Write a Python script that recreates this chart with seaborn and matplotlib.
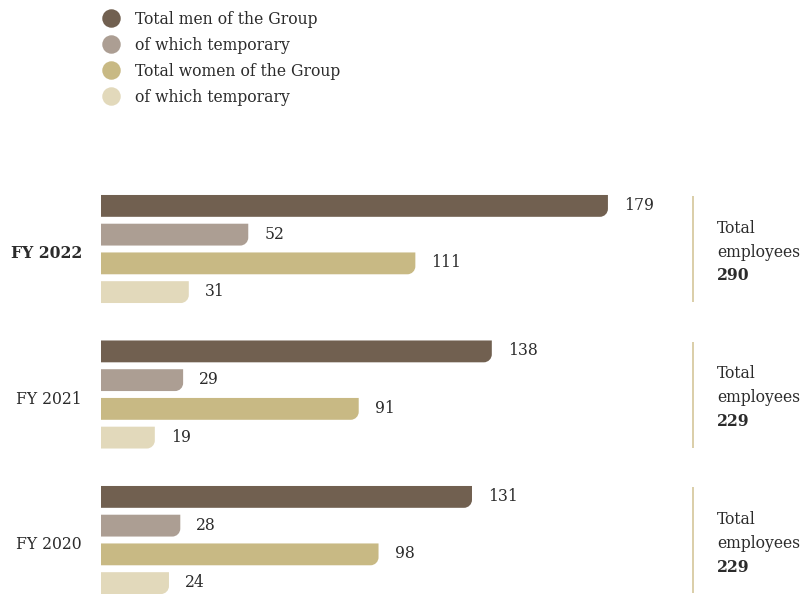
import matplotlib
matplotlib.use("Agg")
import matplotlib.pyplot as plt
from matplotlib.path import Path
from matplotlib.patches import PathPatch
from matplotlib.lines import Line2D
import seaborn as sns
import pandas as pd

years = ["FY 2022", "FY 2021", "FY 2020"]
series = ["Total men of the Group", "of which temporary (men)",
          "Total women of the Group", "of which temporary (women)"]
legend_labels = ["Total men of the Group", "of which temporary",
                 "Total women of the Group", "of which temporary"]
men_total = [179, 138, 131]
men_temp = [52, 29, 28]
women_total = [111, 91, 98]
women_temp = [31, 19, 24]
totals = [290, 229, 229]
colors = ["#716050", "#ac9e93", "#c8b984", "#e2d9bb"]

rows = []
for i, y in enumerate(years):
    for s, vals in zip(series, [men_total, men_temp, women_total, women_temp]):
        rows.append({"year": y, "series": s, "value": vals[i]})
df = pd.DataFrame(rows)

sns.set_theme(style="white")
plt.rcParams["font.family"] = ["DejaVu Serif"]
plt.rcParams["font.stretch"] = "condensed"
TXT = "#2b2b2b"
FS = 12.5

W, H = 805, 594
fig = plt.figure(figsize=(W / 100, H / 100), dpi=100)

# axes pixel geometry
ax_left, ax_right = 101, 690
ax_top, ax_bot = 150, 594
ax = fig.add_axes([ax_left / W, 1 - ax_bot / H, (ax_right - ax_left) / W, (ax_bot - ax_top) / H])
px_per_unit = 2.832
grp_pitch = 145.5
grp0 = 249

sns.barplot(data=df, y="year", x="value", hue="series", order=years, hue_order=series,
            palette=colors, orient="h", width=0.79, gap=0.24, ax=ax, legend=False,
            saturation=1, linewidth=0)

ax.set_xlim(0, (ax_right - ax_left) / px_per_unit)
ax.set_ylim((ax_bot - grp0) / grp_pitch, (ax_top - grp0) / grp_pitch)
ax.axis("off")

# rounded bottom-right corner
rx = 8 / px_per_unit
ry = 8 / grp_pitch
k = 0.5523
patches = list(ax.patches)
for p in patches:
    x0 = p.get_x()
    w = p.get_width()
    y0 = p.get_y()
    h = p.get_height()
    if w <= 0:
        continue
    x1 = x0 + w
    yt, yb = min(y0, y0 + h), max(y0, y0 + h)  # yb is lower on screen (inverted axis)
    verts = [(x0, yt), (x1, yt), (x1, yb - ry),
             (x1, yb - ry + k * ry), (x1 - rx + k * rx, yb), (x1 - rx, yb),
             (x0, yb), (x0, yt)]
    codes = [Path.MOVETO, Path.LINETO, Path.LINETO,
             Path.CURVE4, Path.CURVE4, Path.CURVE4,
             Path.LINETO, Path.CLOSEPOLY]
    newp = PathPatch(Path(verts, codes), facecolor=p.get_facecolor(), edgecolor="none",
                     clip_on=False)
    p.remove()
    ax.add_patch(newp)
    ax.text(x1 + 16 / px_per_unit, (yt + yb) / 2 + 4 / grp_pitch, f"{int(round(w))}",
            ha="left", va="baseline", fontsize=FS, color=TXT)

# category labels, separators and totals
for i, y in enumerate(years):
    ax.text(-19 / px_per_unit, i + 9 / grp_pitch, y, ha="right", va="baseline", fontsize=FS,
            color=TXT, fontweight="bold" if i == 0 else "normal", clip_on=False)
    xl = (693 - ax_left) / px_per_unit
    ax.plot([xl, xl], [i - 53 / grp_pitch, i + 53 / grp_pitch], color="#d4c69a", lw=1.2,
            clip_on=False, solid_capstyle="butt")
    xt = (717 - ax_left) / px_per_unit
    ax.text(xt, i - 16 / grp_pitch, "Total", ha="left", va="baseline", fontsize=FS,
            color=TXT, clip_on=False)
    ax.text(xt, i + 8 / grp_pitch, "employees", ha="left", va="baseline", fontsize=FS,
            color=TXT, clip_on=False)
    ax.text(xt, i + 31.5 / grp_pitch, f"{totals[i]}", ha="left", va="baseline", fontsize=FS,
            color=TXT, fontweight="bold", clip_on=False)

# legend
fs_px = FS * 100 / 72
handles = [Line2D([0], [0], marker="o", linestyle="none", markersize=13.3,
                  markerfacecolor=c, markeredgecolor="none") for c in colors]
fig.legend(handles, legend_labels, loc="upper left",
           bbox_to_anchor=((111 - 0.5 * fs_px) / W, 1 - 11.5 / H),
           borderaxespad=0, borderpad=0, handlelength=1.0, handletextpad=0.88,
           labelspacing=0.515, fontsize=FS, frameon=False, labelcolor=TXT)

fig.savefig("out.png", dpi=100)
